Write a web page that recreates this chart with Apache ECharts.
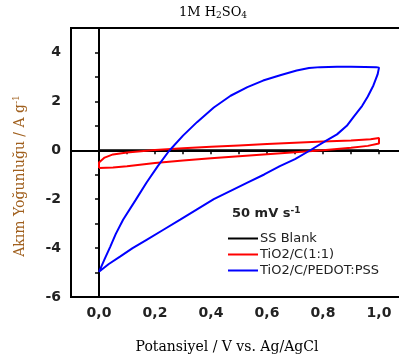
<!DOCTYPE html>
<html>
<head>
<meta charset="utf-8">
<script src="https://cdn.jsdelivr.net/npm/echarts@6/dist/echarts.min.js"></script>
<style>
  html, body { margin: 0; padding: 0; background: #fff; }
  #chart { width: 399px; height: 361px; }
</style>
</head>
<body>
<div id="chart"></div>
<script>
// potential (V) and current density (A/g)
const blankV = [0, 0.25, 0.5, 0.75, 1.0]
const blankI = [0, 0, 0, 0, 0]

const redV = [0, 0.05, 0.1, 0.2, 0.3, 0.4, 0.5, 0.6, 0.7, 0.8, 0.9, 0.96, 1.0, 1.0,
  0.97, 0.9, 0.8, 0.7, 0.6, 0.5, 0.4, 0.3, 0.2, 0.1, 0.05, 0.02, 0, 0]
const redI = [-0.72, -0.7, -0.65, -0.52, -0.42, -0.33, -0.24, -0.16, -0.08, 0.0, 0.1, 0.18, 0.28, 0.5,
  0.45, 0.4, 0.36, 0.31, 0.26, 0.2, 0.14, 0.08, 0.01, -0.09, -0.17, -0.3, -0.5, -0.72]

const blueV = [0, 0.02, 0.04, 0.06, 0.086, 0.13, 0.17, 0.21, 0.25, 0.3, 0.35, 0.41, 0.47, 0.53, 0.586, 0.65, 0.706, 0.75, 0.79, 0.85, 0.9, 0.95, 0.99, 1.0,
  0.995, 0.98, 0.96, 0.94, 0.91, 0.885, 0.85, 0.81, 0.75, 0.7, 0.646, 0.59, 0.53, 0.47, 0.41, 0.35, 0.29, 0.23, 0.17, 0.12, 0.075, 0.035, 0]
const blueI = [-4.97, -4.45, -3.95, -3.42, -2.84, -2.05, -1.32, -0.65, -0.03, 0.6, 1.15, 1.75, 2.23, 2.58, 2.85, 3.08, 3.26, 3.36, 3.4, 3.42, 3.42, 3.41, 3.4, 3.38,
  3.1, 2.65, 2.2, 1.82, 1.38, 1.0, 0.65, 0.38, -0.03, -0.36, -0.65, -0.99, -1.32, -1.66, -2.0, -2.42, -2.84, -3.25, -3.66, -4.0, -4.35, -4.65, -4.97]

const seriesNames = ['SS Blank', 'TiO2/C(1:1)', 'TiO2/C/PEDOT:PSS']
const seriesColors = ['#000000', '#ff0000', '#0000ff']

const zip = (xs, ys) => xs.map((x, i) => [x, ys[i]])
const curves = [zip(blankV, blankI), zip(redV, redI), zip(blueV, blueI)]

const tickFont = { color: '#222', fontFamily: 'DejaVu Sans', fontWeight: 'bold', fontSize: 14 }

const chart = echarts.init(document.getElementById('chart'))

chart.setOption({
  animation: false,
  grid: {
    left: 71, top: 28, width: 336, height: 269,
    outerBoundsMode: 'none',
    containLabel: false,
    show: true, borderColor: '#000', borderWidth: 2
  },
  xAxis: {
    type: 'value',
    min: -0.1, max: 1.1, interval: 0.1,
    splitLine: { show: false },
    axisLine: { lineStyle: { color: '#000', width: 2 } },
    axisTick: { length: 4, lineStyle: { color: '#000', width: 1.5 } },
    axisLabel: {
      ...tickFont,
      margin: 9,
      formatter: (v) => {
        const k = Math.round(v * 10)
        if (k % 2 !== 0 || k < 0 || k > 10) return ''
        return (k / 10).toFixed(1).replace('.', ',')
      }
    }
  },
  yAxis: {
    type: 'value',
    min: -6, max: 5, interval: 1,
    splitLine: { show: false },
    axisLine: { lineStyle: { color: '#000', width: 2 } },
    axisTick: { length: 4, lineStyle: { color: '#000', width: 1.5 } },
    axisLabel: {
      ...tickFont,
      margin: 10,
      formatter: (v) => (Math.round(v) % 2 === 0 ? String(v) : '')
    }
  },
  legend: {
    orient: 'vertical',
    left: 228, top: 232, padding: 0,
    itemWidth: 30, itemHeight: 2, itemGap: 3,
    icon: 'rect',
    data: seriesNames,
    textStyle: { fontFamily: 'DejaVu Sans', fontSize: 13, color: '#222', padding: [0, 0, 0, -3] }
  },
  graphic: [
    {
      type: 'text',
      x: 213, y: 5,
      style: {
        text: '1M H{sub|2}SO{sub|4}',
        font: '13px "DejaVu Serif"', fill: '#000',
        align: 'center',
        rich: { sub: { fontSize: 9, fontFamily: 'DejaVu Serif', verticalAlign: 'bottom', padding: [6, 0, 0, 0] } }
      }
    },
    {
      type: 'text',
      x: 227, y: 347,
      style: {
        text: 'Potansiyel / V vs. Ag/AgCl',
        font: '14px "DejaVu Serif"', fill: '#000',
        align: 'center', verticalAlign: 'middle'
      }
    },
    {
      type: 'text',
      x: 20, y: 176,
      rotation: Math.PI / 2,
      style: {
        text: 'Akım Yoğunluğu / A g{sup|-1}',
        font: '14px "DejaVu Serif"', fill: '#a0601e',
        align: 'center', verticalAlign: 'middle',
        rich: { sup: { fontSize: 9, fontFamily: 'DejaVu Serif', fill: '#a0601e', verticalAlign: 'top', padding: [0, 0, 6, 0] } }
      }
    },
    {
      type: 'text',
      x: 232, y: 214,
      style: {
        text: '50 mV s{sup|-1}',
        font: 'bold 13px "DejaVu Sans"', fill: '#222',
        verticalAlign: 'middle',
        rich: { sup: { fontSize: 9, fontWeight: 'bold', fontFamily: 'DejaVu Sans', fill: '#222', verticalAlign: 'top', padding: [0, 0, 6, 0] } }
      }
    }
  ],
  series: curves.map((data, i) => ({
    name: seriesNames[i],
    type: 'line',
    data: data,
    showSymbol: false,
    symbol: 'none',
    color: seriesColors[i],
    lineStyle: { color: seriesColors[i], width: 2 },
    z: 2 + i
  }))
})
</script>
</body>
</html>
